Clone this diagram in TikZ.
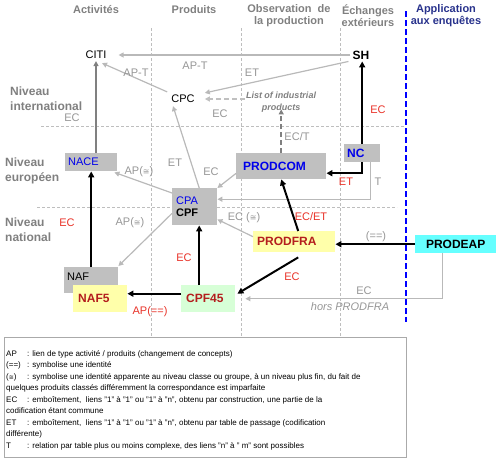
\documentclass[tikz,border=0pt]{standalone}
\usepackage{fontspec}
\setmainfont{Liberation Sans}
\newfontfamily\symfont{DejaVu Sans}
\usetikzlibrary{arrows.meta,calc}
\definecolor{lineg}{RGB}{185,185,185}
\definecolor{labgray}{RGB}{150,150,150}
\definecolor{hdrgray}{RGB}{128,128,128}
\definecolor{sepgray}{RGB}{190,190,190}
\definecolor{boxg}{RGB}{192,192,192}
\definecolor{redlab}{RGB}{232,50,40}
\definecolor{darkred}{RGB}{180,30,30}
\definecolor{bluet}{RGB}{0,0,235}
\definecolor{navy}{RGB}{40,50,140}
\definecolor{yel}{RGB}{255,255,170}
\definecolor{greenbox}{RGB}{215,255,215}
\definecolor{cyanbox}{RGB}{102,255,255}
\definecolor{legg}{RGB}{170,170,170}
\newcommand{\approxsym}{{\symfont\fontsize{8}{8}\selectfont ≅}}
\newcommand{\approxsmall}{{\symfont\fontsize{6}{6}\selectfont ≅}}
\begin{document}
\begin{tikzpicture}[x=1pt,y=-1pt,
  hdr/.style={font=\bfseries\fontsize{11}{12}\selectfont, text=hdrgray, align=center, inner sep=0pt},
  lvl/.style={font=\bfseries\fontsize{12}{15}\selectfont, text=hdrgray, align=left, inner sep=0pt, anchor=west},
  glab/.style={font=\fontsize{11}{13}\selectfont, text=labgray, inner sep=0pt},
  rlab/.style={font=\fontsize{11}{13}\selectfont, text=redlab, inner sep=0pt},
  plainnode/.style={font=\fontsize{11}{13}\selectfont, inner sep=2pt},
  bnode/.style={font=\bfseries\fontsize{12}{14}\selectfont, inner sep=2pt},
  cbox/.style={anchor=north west, inner ysep=0pt, align=left},
  gline/.style={draw=lineg, line width=1.2pt, -{Triangle[length=5pt,width=5pt]}},
  dline/.style={draw=hdrgray, line width=2pt, -{Triangle[length=5pt,width=5pt]}},
  bline/.style={draw=black, line width=2pt, -{Triangle[length=6pt,width=6pt]}},
  ldash/.style={draw=boxg, line width=1.8pt, dash pattern=on 5pt off 3pt, -{Triangle[length=5pt,width=5pt]}},
  ddash/.style={draw=hdrgray, line width=2pt, dash pattern=on 5pt off 3pt, -{Triangle[length=5pt,width=5pt]}},
  colsep/.style={draw=sepgray, line width=0.5pt, dash pattern=on 3pt off 2pt},
]
\useasboundingbox (0,0) rectangle (497,464);

% headers
\node[hdr] (hA) at (96,10) {Activités};
\node[hdr] (hP) at (194,10) {Produits};
\node[hdr] (hO) at (289,16) {Observation\ \ de\\la production};
\node[hdr] (hE) at (368,16) {Échanges\\extérieurs};
\node[hdr, text=navy] (hApp) at (446,16) {Application\\aux enquêtes};

% separators
\draw[colsep] (151,28) -- (151,336);
\draw[colsep] (241,28) -- (241,336);
\draw[colsep] (340,28) -- (340,336);
\draw[colsep] (41,126) -- (405,126);
\draw[colsep] (37,207) -- (397,207);
\draw[draw=blue, line width=2pt, dash pattern=on 6pt off 3pt] (406,11) -- (406,322);

% level labels
\node[lvl] (lI) at (10,98.5) {Niveau\\international};
\node[lvl] (lE) at (5,170.5) {Niveau\\européen};
\node[lvl] (lN) at (5,230) {Niveau\\national};

% nodes
\node[plainnode] (citi) at (96,55) {CITI};
\node[bnode] (sh) at (361,55) {SH};
\node[plainnode] (cpc) at (183,99) {CPC};
\node[font=\bfseries\itshape\fontsize{9}{12}\selectfont, text=hdrgray, align=center, inner sep=1pt] (list) at (281,102) {List of industrial\\products};

\node[cbox, fill=boxg, inner xsep=3pt, text width=46pt, minimum height=18pt, font=\fontsize{11}{13}\selectfont, text=bluet] (nace) at (65,153) {NACE};
\node[cbox, fill=boxg, inner xsep=4pt, text width=37pt, minimum height=37pt, font=\fontsize{11}{12}\selectfont] (cpa) at (172,188) {\textcolor{bluet}{CPA}\\\textbf{CPF}};
\node[cbox, fill=boxg, inner xsep=7pt, text width=76pt, minimum height=26pt, font=\bfseries\fontsize{12}{14}\selectfont, text=bluet] (prodcom) at (236,153) {PRODCOM};
\node[cbox, fill=boxg, inner xsep=3pt, text width=30pt, minimum height=18pt, font=\bfseries\fontsize{12}{14}\selectfont, text=bluet] (nc) at (344,144) {NC};
\node[cbox, fill=yel, inner xsep=4pt, text width=74pt, minimum height=21pt, font=\bfseries\fontsize{12}{14}\selectfont, text=darkred] (prodfra) at (253,231) {PRODFRA};
\node[cbox, fill=cyanbox, inner xsep=0pt, text width=81pt, align=center, minimum height=18pt, font=\bfseries\fontsize{12}{14}\selectfont] (prodeap) at (415,235) {PRODEAP};
\node[cbox, fill=boxg, inner xsep=3pt, text width=48pt, text height=8pt, text depth=8pt, inner ysep=5pt, font=\fontsize{11}{13}\selectfont] (naf) at (64,267) {NAF};
\node[cbox, fill=yel, inner xsep=5pt, text width=44pt, minimum height=27pt, font=\bfseries\fontsize{12}{14}\selectfont, text=darkred] (naf5) at (73,285) {NAF5};
\node[cbox, fill=greenbox, inner xsep=5pt, text width=44pt, minimum height=27pt, font=\bfseries\fontsize{12}{14}\selectfont, text=darkred] (cpf45) at (181,285) {CPF45};

% connectors
\draw[gline] (sh.west) -- ($(citi.east)+(10,0)$);
\draw[gline] ($(cpc.north west)+(-2,-1)$) -- ($(citi.south)+(6,2)$);
\draw[gline] ($(sh.south west)+(-2,0)$) -- ($(cpc.north east)+(8,0)$);
\draw[ldash] (list.west |- cpc) -- ($(cpc.east)+(8,0)$);
\draw[ddash] (prodcom.north) -- ($(prodcom.north |- list.south)+(0,-4)$);
\draw[dline] (nace.north -| citi) -- (citi.south);
\draw[gline] ($(cpa.north)+(4.5,0)$) -- ($(cpc.south)+(-10,1)$);
\draw[gline] ($(cpa.north west)+(0,5)$) -- ($(nace.south east)+(-3,1)$);
\draw[gline] ($(cpa.south west)+(0,-12)$) -- ($(naf.north east)+(0,-1)$);
\draw[gline] ($(prodcom.south west)+(0,-6)$) -- (cpa.north east);
\draw[gline] ($(nc.south)+(8,0)$) |- ($(cpa.east)+(0,-7.5)$);
\draw[bline] (nc.south) |- ($(prodcom.east)+(0,7)$);
\draw[bline] (nc.north) -- (nc.north |- sh.south);
\draw[gline] ($(prodfra.west)+(0,-5)$) -- ($(cpa.south east)+(0,-6)$);
\draw[bline] ($(prodfra.north)+(4,0)$) -- (prodcom.south);
\draw[bline] (prodeap.west) -- (prodeap.west -| prodfra.east);
\draw[bline] ($(prodfra.south)+(4,5)$) -- ($(cpf45.east)+(2,-5)$);
\draw[gline] ($(prodeap.south)+(-13.5,0)$) |- ($(cpf45.east)+(10,0)$);
\coordinate (cpfup) at ($(cpa.south)+(4.5,0)$);
\draw[bline] (cpfup |- cpf45.north) -- (cpfup);
\draw[bline] ($(cpf45.west)+(0,-5)$) -- ($(naf5.east)+(0,-5)$);
\draw[bline] (naf.north) -- (nace.south);

% labels
\node[glab] (l1) at (195,66) {AP-T};
\node[glab] (l2) at (136,73) {AP-T};
\node[glab] (l3) at (252,73) {ET};
\node[glab] (l4) at (220,114) {EC};
\node[glab] (l5) at (72,118) {EC};
\node[glab] (l6) at (297,137) {EC/T};
\node[rlab] (l7) at (378,110) {EC};
\node[glab] (l8) at (175,163) {ET};
\node[glab] (l9) at (139,172) {AP(\approxsym)};
\node[glab] (l10) at (211,172) {EC};
\node[rlab] (l11) at (346,182) {ET};
\node[glab] (l12) at (378,182) {T};
\node[glab] (l13) at (130,223) {AP(\approxsym)};
\node[rlab] (l14) at (67,223) {EC};
\node[glab] (l15) at (244,218) {EC (\approxsym)};
\node[rlab] (l16) at (311,217) {EC/ET};
\node[glab] (l17) at (376,237) {(==)};
\node[rlab] (l18) at (292,277) {EC};
\node[rlab] (l19) at (184,258) {EC};
\node[glab] (l20) at (364,291) {EC};
\node[glab, font=\itshape\fontsize{11}{13}\selectfont] (l21) at (350,307) {hors PRODFRA};
\node[rlab] (l22) at (150,312) {AP(==)};

% legend
\node[draw=legg, line width=0.8pt, anchor=north west, minimum width=402pt, minimum height=120pt, inner sep=0pt] (legbox) at (4,337) {};
\node[anchor=north west, inner sep=0pt, align=left, font=\fontsize{8}{11.5}\selectfont] (legtext) at (6,350) {%
\makebox[21pt][l]{AP}: lien de type activité / produits (changement de concepts)\\
\makebox[21pt][l]{(==)}: symbolise une identité\\
\makebox[21pt][l]{(\approxsmall)}: symbolise une identité apparente au niveau classe ou groupe, à un niveau plus fin, du fait de\\
quelques produits classés différemment la correspondance est imparfaite\\
\makebox[21pt][l]{EC}: emboîtement,\ \ liens "1" à "1" ou "1" à "n", obtenu par construction, une partie de la\\
codification étant commune\\
\makebox[21pt][l]{ET}: emboîtement,\ \ liens "1" à "1" ou "1" à "n", obtenu par table de passage (codification\\
différente)\\
\makebox[21pt][l]{T}: relation par table plus ou moins complexe, des liens "n" à " m" sont possibles};
\end{tikzpicture}
\end{document}
